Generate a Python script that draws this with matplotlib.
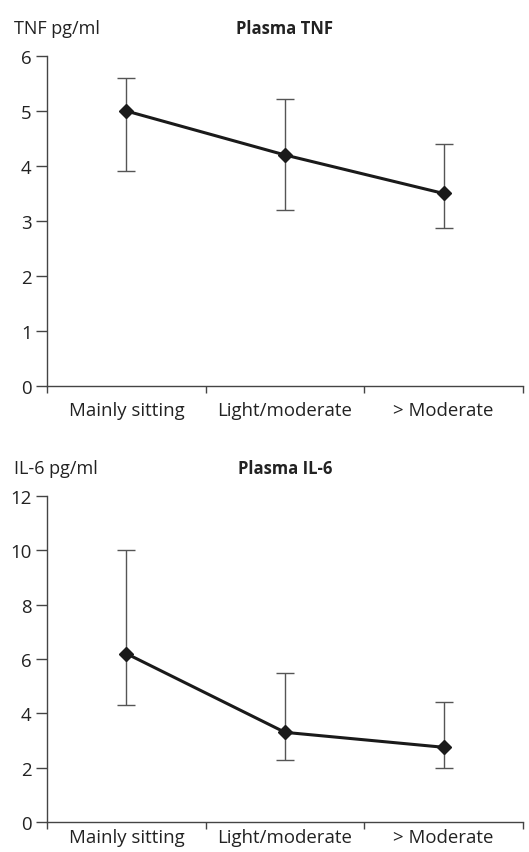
import numpy as np
import matplotlib.pyplot as plt

plt.rcParams['font.family'] = ['Open Sans', 'DejaVu Sans']

# activity groups
groups = ['Mainly sitting', 'Light/moderate', '> Moderate']

# plasma TNF (pg/ml): mean and error bar range
tnf_mean = [5.0, 4.2, 3.5]
tnf_low = [3.9, 3.2, 2.88]
tnf_high = [5.6, 5.22, 4.4]

# plasma IL-6 (pg/ml)
il6_mean = [6.2, 3.3, 2.75]
il6_low = [4.3, 2.3, 2.0]
il6_high = [10.0, 5.48, 4.4]

fig = plt.figure(figsize=(5.29, 8.53), dpi=100)
ax1 = fig.add_axes([0.0888, 0.5463, 0.8999, 0.3869])
ax2 = fig.add_axes([0.0888, 0.0352, 0.8999, 0.3821])

def panel(ax, mean, low, high, ymax, ystep, unit, title, pad):
    x = np.arange(len(groups)) + 0.5
    mean = np.array(mean)
    err = [mean - np.array(low), np.array(high) - mean]
    ax.errorbar(x, mean, yerr=err, fmt='none', ecolor='#555555',
                elinewidth=1.0, capsize=6.5, capthick=1.0, zorder=2)
    ax.plot(x, mean, color='#1a1a1a', lw=2.2, marker='D', ms=7,
            mfc='#1a1a1a', mec='#1a1a1a', zorder=3)
    ax.set_xlim(0, 3)
    ax.set_ylim(0, ymax)
    ax.set_yticks(np.arange(0, ymax + 0.01, ystep))
    ax.set_xticks([0, 1, 2, 3])
    ax.set_xticklabels([])
    ax.set_xticks(x, minor=True)
    ax.set_xticklabels(groups, minor=True)
    ax.tick_params(axis='x', which='minor', length=0, labelsize=13.4,
                   pad=pad, labelcolor='#222222')
    ax.tick_params(axis='x', which='major', length=5, width=1.0,
                   color='#444444')
    ax.tick_params(axis='y', length=8, width=1.0, color='#444444',
                   labelsize=13.4, pad=3, labelcolor='#222222')
    for s in ['top', 'right']:
        ax.spines[s].set_visible(False)
    for s in ['left', 'bottom']:
        ax.spines[s].set_color('#444444')
        ax.spines[s].set_linewidth(1.0)
    ax.text(-0.069, 1.085, unit, transform=ax.transAxes, fontsize=13,
            ha='left', va='center', color='#222222')
    ax.text(0.5, 1.085, title, transform=ax.transAxes, fontsize=12,
            ha='center', va='center', fontweight='bold', color='#222222')

panel(ax1, tnf_mean, tnf_low, tnf_high, 6, 1, 'TNF pg/ml', 'Plasma TNF', 10.5)
panel(ax2, il6_mean, il6_low, il6_high, 12, 2, 'IL-6 pg/ml', 'Plasma IL-6', 4)

fig.savefig('out.png', dpi=100)
